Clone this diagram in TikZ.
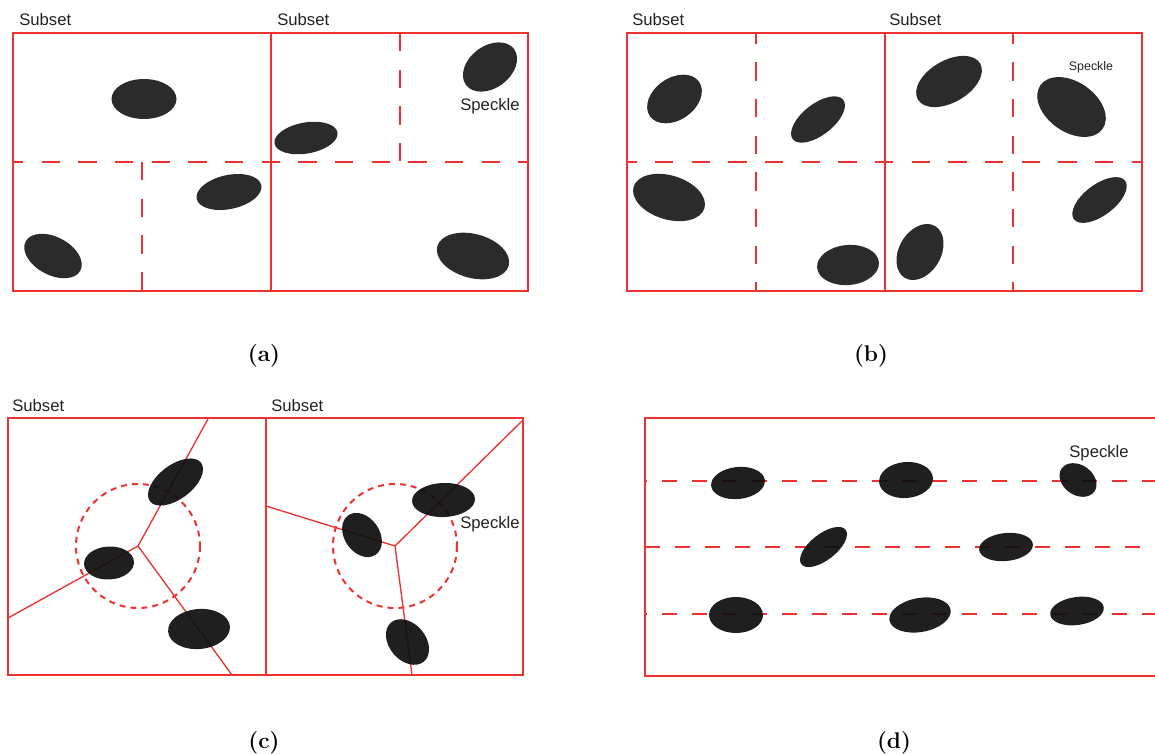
\documentclass[tikz,border=0pt]{standalone}
\usepackage{fontspec}
\newfontfamily\arialfont{Liberation Sans}
\definecolor{gridred}{RGB}{238,50,50}
\definecolor{darkspeck}{RGB}{43,43,43}
\definecolor{blackspeck}{RGB}{14,14,14}
\definecolor{labelgray}{RGB}{34,34,34}
\newcommand\drawspeck[6][aspeck]{\fill[#1,rotate around={#6:(#2,#3)}] (#2,#3) ellipse [x radius=#4, y radius=#5];}
\begin{document}
\begin{tikzpicture}[x=0.75pt,y=-0.75pt,
 panelframe/.style={draw=gridred,line width=2.1pt},
 griddash/.style={draw=gridred,line width=2pt,dash pattern=on 13.75pt off 13.75pt},
 rowdash/.style={draw=gridred,line width=2pt,dash pattern=on 11.4pt off 11.1pt},
 voro/.style={draw=gridred,line width=1pt},
 zone/.style={draw=gridred,line width=1.5pt,dash pattern=on 4.5pt off 3.75pt},
 aspeck/.style={fill=darkspeck},
 cspeck/.style={fill=blackspeck,fill opacity=0.93},
 lbl/.style={font=\arialfont\fontsize{12.5}{14}\selectfont,text=labelgray,inner sep=0pt},
 smalllbl/.style={font=\arialfont\fontsize{9.3}{11}\selectfont,text=labelgray,inner sep=0pt},
 captext/.style={font=\fontsize{17}{20}\selectfont\bfseries,inner sep=0pt}]
\clip (0,0) rectangle (1155,753);

% ---------------- panel (a)
\draw[griddash,dash phase=6pt] (13,162) -- (528,162);
\draw[griddash] (142,162) -- (142,291);
\draw[griddash] (400,33) -- (400,162);
\draw[panelframe] (13,33) rectangle (528,291);
\draw[panelframe] (271,33) -- (271,291);
\node[lbl,anchor=base west] (subA1) at (19,25) {Subset};
\node[lbl,anchor=base west] (subA2) at (277,25) {Subset};
\node[lbl,anchor=base] (spkA) at (490,110) {Speckle};
\drawspeck{144}{99}{32.5}{20}{0}
\drawspeck{306}{138}{32}{15.5}{10}
\drawspeck{490}{67}{30}{21}{37}
\drawspeck{229}{192}{33}{17}{12}
\drawspeck{53}{256}{31}{19}{-28}
\drawspeck{473}{256}{37}{22}{-15}
\node[captext,anchor=base] (capA) at (264,361) {(a)};

% ---------------- panel (b)
\draw[griddash,dash phase=6.5pt] (627,162) -- (1142,162);
\draw[griddash,dash phase=5.5pt] (756,33) -- (756,291);
\draw[griddash,dash phase=5.5pt] (1013,33) -- (1013,291);
\draw[panelframe] (627,33) rectangle (1142,291);
\draw[panelframe] (885,33) -- (885,291);
\node[lbl,anchor=base west] (subB1) at (632,25) {Subset};
\node[lbl,anchor=base west] (subB2) at (889,25) {Subset};
\node[smalllbl,anchor=base] (spkB) at (1091,70) {Speckle};
\drawspeck{674.5}{99}{30}{21}{35}
\drawspeck{818}{119.5}{32}{15.5}{38}
\drawspeck{949}{81.5}{36}{21}{30}
\drawspeck{1071.5}{107}{38}{25}{-35}
\drawspeck{669}{197.5}{37}{22}{-17}
\drawspeck{848}{265}{31}{20}{5}
\drawspeck{920}{252}{30}{21}{60}
\drawspeck{1099.5}{200}{32}{15.5}{37}
\node[captext,anchor=base] (capB) at (871,361) {(b)};

% ---------------- panel (c)
\coordinate (vL) at (138,546);
\coordinate (vLtop) at (208,419);
\coordinate (vLleft) at (8,618);
\coordinate (vLbot) at (232,675);
\coordinate (vR) at (395,546);
\coordinate (vRtop) at (522,421);
\coordinate (vRleft) at (266,506);
\coordinate (vRbot) at (412,675);
\draw[voro] (vL) -- (vLtop);
\draw[voro] (vL) -- (vLleft);
\draw[voro] (vL) -- (vLbot);
\draw[voro] (vR) -- (vRtop);
\draw[voro] (vR) -- (vRleft);
\draw[voro] (vR) -- (vRbot);
\draw[zone] (vL) circle [radius=62];
\draw[zone] (vR) circle [radius=62];
\draw[panelframe] (8,418) rectangle (523,675);
\draw[panelframe] (266,418) -- (266,675);
\node[lbl,anchor=base west] (subC1) at (12,411) {Subset};
\node[lbl,anchor=base west] (subC2) at (271,411) {Subset};
\node[lbl,anchor=base] (spkC) at (490,528) {Speckle};
\drawspeck[cspeck]{175.5}{482}{32}{17}{37}
\drawspeck[cspeck]{109}{563}{25}{16.5}{3}
\drawspeck[cspeck]{199}{629}{31}{20}{5}
\drawspeck[cspeck]{443.5}{500}{31.5}{17}{2}
\drawspeck[cspeck]{362}{535}{24}{17.5}{-55}
\drawspeck[cspeck]{407.5}{642}{25.5}{18.3}{-50}
\node[captext,anchor=base] (capC) at (264,748) {(c)};

% ---------------- panel (d)
\draw[rowdash,dash phase=9.75pt] (645,481) -- (1165,481);
\draw[rowdash] (645,547) -- (1165,547);
\draw[rowdash,dash phase=9.75pt] (645,614) -- (1165,614);
\draw[panelframe] (1170,418) -- (645,418) -- (645,676) -- (1170,676);
\node[lbl,anchor=base] (spkD) at (1099,457) {Speckle};
\drawspeck[cspeck]{738}{483}{27}{16}{6}
\drawspeck[cspeck]{906}{480}{27}{18}{5}
\drawspeck[cspeck]{1078}{480}{20}{15}{-35}
\drawspeck[cspeck]{823.5}{547}{28}{13}{38}
\drawspeck[cspeck]{1006}{547}{27}{14}{6}
\drawspeck[cspeck]{736}{615}{27}{18}{0}
\drawspeck[cspeck]{920}{615}{31}{17}{10}
\drawspeck[cspeck]{1077}{611}{27}{14}{8}
\node[captext,anchor=base] (capD) at (894,748) {(d)};
\end{tikzpicture}
\end{document}
